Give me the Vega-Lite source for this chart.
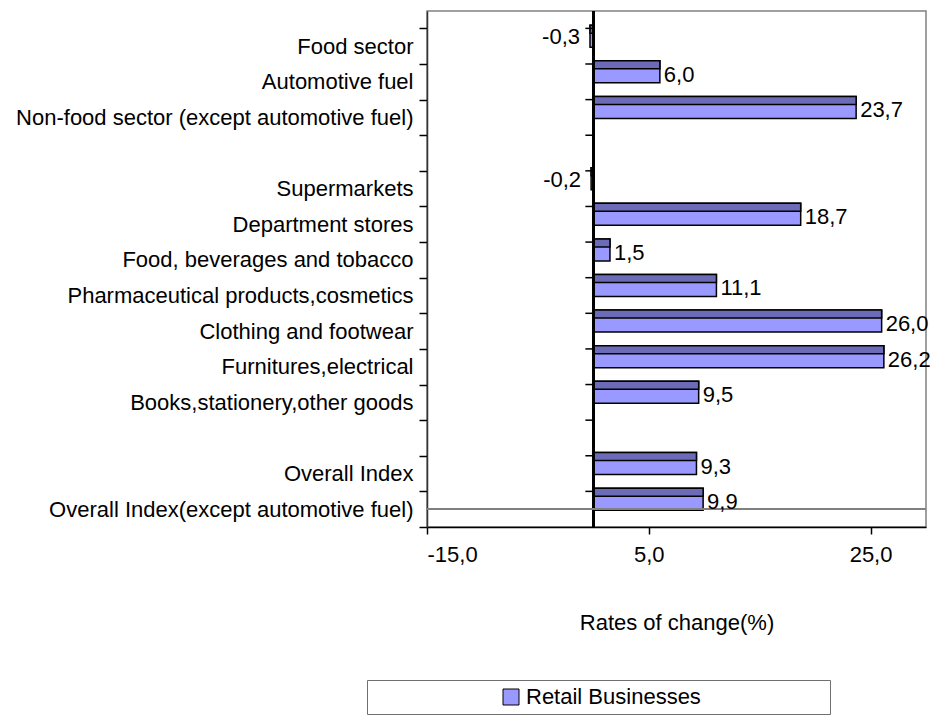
{
  "$schema": "https://vega.github.io/schema/vega-lite/v6.json",
  "width": 499,
  "height": 516,
  "autosize": {"type": "none"},
  "padding": {"left": 427, "top": 11, "right": 4, "bottom": 193},
  "config": {
    "locale": {"number": {"decimal": ",", "thousands": ".", "grouping": [3], "currency": ["", ""], "minus": "-"}},
    "font": "Liberation Sans",
    "view": {"stroke": "#808080", "strokeWidth": 1.5},
    "axis": {"labelFont": "Liberation Sans", "titleFont": "Liberation Sans", "labelColor": "black", "titleColor": "black", "labelFontSize": 22, "titleFontSize": 22, "titleFontWeight": "normal", "grid": false}
  },
  "data": {"values": [
    {"category": "Food sector", "value": -0.3},
    {"category": "Automotive fuel", "value": 6.0},
    {"category": "Non-food sector (except automotive fuel)", "value": 23.7},
    {"category": " ", "value": null},
    {"category": "Supermarkets", "value": -0.2},
    {"category": "Department stores", "value": 18.7},
    {"category": "Food, beverages and tobacco", "value": 1.5},
    {"category": "Pharmaceutical products,cosmetics", "value": 11.1},
    {"category": "Clothing and footwear", "value": 26.0},
    {"category": "Furnitures,electrical", "value": 26.2},
    {"category": "Books,stationery,other goods", "value": 9.5},
    {"category": "  ", "value": null},
    {"category": "Overall Index", "value": 9.3},
    {"category": "Overall Index(except automotive fuel)", "value": 9.9}
  ]},
  "layer": [
    {
      "transform": [{"filter": "datum.value != null"}],
      "mark": {"type": "bar", "height": 22, "yOffset": -10, "stroke": "black", "strokeWidth": 1.5},
      "encoding": {
        "y": {
          "field": "category", "type": "nominal", "sort": null, "title": null,
          "scale": {"domain": ["Food sector", "Automotive fuel", "Non-food sector (except automotive fuel)", " ", "Supermarkets", "Department stores", "Food, beverages and tobacco", "Pharmaceutical products,cosmetics", "Clothing and footwear", "Furnitures,electrical", "Books,stationery,other goods", "  ", "Overall Index", "Overall Index(except automotive fuel)"], "paddingInner": 0, "paddingOuter": 0.244, "align": 1},
          "axis": {"orient": "left", "tickBand": "extent", "tickSize": 8, "tickColor": "black", "tickWidth": 1.5, "domainColor": "#333333", "domainWidth": 1.5, "labelPadding": 6, "labelLimit": 500}
        },
        "x": {
          "field": "value", "type": "quantitative",
          "scale": {"domain": [-15, 30], "nice": false, "zero": false},
          "axis": {"values": [-15, 5, 25], "format": ".1f", "title": "Rates of change(%)", "tickSize": 7, "tickColor": "black", "tickWidth": 1.5, "domainColor": "black", "domainWidth": 1.5, "labelPadding": 10, "titlePadding": 47}
        },
        "x2": {"datum": 0},
        "color": {
          "datum": "Retail Businesses",
          "scale": {"range": ["#9999FF"]},
          "legend": {"orient": "none", "legendX": -60, "legendY": 669, "title": null, "strokeColor": "#707070", "padding": 6, "symbolType": "square", "symbolSize": 256, "symbolStrokeColor": "black", "symbolStrokeWidth": 1, "symbolFillColor": "#9999FF", "labelFontSize": 22, "labelFont": "Liberation Sans", "labelColor": "black", "symbolOffset": 127, "labelOffset": 4, "labelLimit": 700, "labelExpr": "datum.label + '\u00a0\u00a0\u00a0\u00a0\u00a0\u00a0\u00a0\u00a0\u00a0\u00a0\u00a0\u00a0\u00a0\u00a0\u00a0\u00a0\u00a0\u00a0\u00a0\u00a0\u200b'"}
        }
      }
    },
    {
      "transform": [{"filter": "datum.value != null"}],
      "mark": {"type": "bar", "height": 8, "yOffset": -17, "fill": "#6B6BB8", "stroke": "black", "strokeWidth": 1.5},
      "encoding": {
        "y": {"field": "category", "type": "nominal", "sort": null},
        "x": {"field": "value", "type": "quantitative"},
        "x2": {"datum": 0}
      }
    },
    {
      "mark": {"type": "rule", "color": "black", "strokeWidth": 2},
      "encoding": {"x": {"datum": 0}}
    },
    {
      "mark": {"type": "rule", "color": "black", "strokeWidth": 1.5},
      "encoding": {
        "y": {"field": "category", "type": "nominal", "sort": null, "bandPosition": 0},
        "x": {"datum": -0.72},
        "x2": {"datum": 0}
      }
    },
    {
      "mark": {"type": "rule", "color": "#808080", "strokeWidth": 1.5},
      "encoding": {"y": {"datum": "Overall Index(except automotive fuel)"}}
    },
    {
      "transform": [{"filter": "datum.value > 0"}],
      "mark": {"type": "text", "align": "left", "baseline": "middle", "dx": 4, "yOffset": -7, "fontSize": 22, "font": "Liberation Sans", "color": "black"},
      "encoding": {
        "y": {"field": "category", "type": "nominal", "sort": null},
        "x": {"field": "value", "type": "quantitative"},
        "text": {"field": "value", "type": "quantitative", "format": ".1f"}
      }
    },
    {
      "transform": [{"filter": "datum.value != null && datum.value < 0"}],
      "mark": {"type": "text", "align": "right", "baseline": "middle", "dx": -10, "yOffset": -9, "fontSize": 22, "font": "Liberation Sans", "color": "black"},
      "encoding": {
        "y": {"field": "category", "type": "nominal", "sort": null},
        "x": {"field": "value", "type": "quantitative"},
        "text": {"field": "value", "type": "quantitative", "format": ".1f"}
      }
    }
  ]
}
